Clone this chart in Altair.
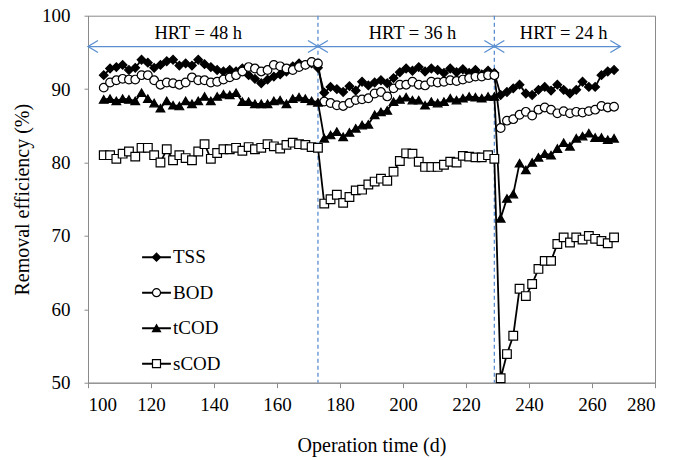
import altair as alt
import pandas as pd

# ---------------- data ----------------
days_48 = [105, 107, 109, 111, 113, 115, 117, 119, 121, 123, 125, 127, 129, 131, 133,
           135, 137, 139, 141, 143, 145, 147, 149, 151, 153, 155, 157, 159, 161, 163,
           165, 167, 169, 171, 173]
days_36 = [175, 177, 179, 181, 183, 185, 187, 189, 191, 193, 195, 197, 199, 201, 203,
           205, 207, 209, 211, 213, 215, 217, 219, 221, 223, 225, 227, 229]
days_24 = [231, 233, 235, 237, 239, 241, 243, 245, 247, 249, 251, 253, 255, 257, 259,
           261, 263, 265, 267]

tss_48 = [91.9, 92.8, 93.0, 93.3, 92.6, 92.9, 94.0, 93.6, 92.9, 93.3, 93.8, 94.0, 93.2,
          93.5, 93.2, 94.0, 93.4, 93.0, 92.6, 92.4, 92.6, 92.4, 92.8, 91.9, 91.4, 90.8,
          91.3, 91.7, 92.0, 92.4, 93.1, 93.5, 93.3, 93.5, 92.9]
tss_36 = [89.5, 90.3, 90.0, 89.6, 90.4, 89.8, 91.0, 90.5, 90.9, 91.2, 90.8, 91.5, 92.3,
          92.8, 92.5, 93.0, 92.4, 92.8, 92.6, 92.2, 92.8, 92.3, 92.7, 92.2, 92.6, 92.0,
          92.5, 92.2]
tss_24 = [89.2, 89.6, 90.1, 90.6, 89.4, 89.2, 89.9, 90.3, 89.8, 90.6, 89.9, 89.4, 89.9,
          91.0, 90.3, 90.3, 91.9, 92.4, 92.6]

bod_48 = [90.2, 90.9, 91.2, 91.4, 91.3, 91.3, 91.9, 91.9, 91.2, 90.6, 90.9, 90.8, 90.6,
          90.9, 91.6, 91.2, 91.2, 90.9, 91.0, 91.3, 91.6, 91.9, 92.4, 93.0, 92.8, 92.4,
          92.6, 93.3, 93.1, 92.8, 92.6, 93.0, 93.3, 93.7, 93.5]
bod_36 = [88.3, 88.1, 87.8, 87.7, 88.1, 88.5, 88.6, 88.75, 89.4, 89.6, 89.0, 90.1, 90.6,
          90.6, 91.0, 90.6, 90.5, 91.0, 90.9, 91.0, 91.2, 91.1, 91.3, 91.5, 91.7, 91.7,
          91.9, 91.9]
bod_24 = [84.7, 85.7, 85.9, 86.5, 86.9, 86.4, 87.2, 87.5, 87.2, 86.7, 87.0, 86.7, 86.9,
          86.8, 87.0, 87.2, 87.7, 87.5, 87.6]

tcod_48 = [88.6, 88.7, 88.4, 88.7, 88.6, 88.4, 89.5, 88.7, 88.1, 87.4, 88.4, 87.8, 87.7,
           88.4, 88.0, 88.4, 89.0, 88.4, 89.0, 89.3, 89.2, 89.5, 88.3, 88.3, 88.0, 88.0,
           88.0, 88.4, 88.5, 88.0, 88.7, 88.9, 88.7, 88.4, 88.2]
tcod_36 = [83.3, 83.75, 84.2, 83.5, 84.1, 84.65, 85.1, 85.2, 86.5, 86.9, 87.1, 88.3, 88.6,
           88.9, 88.5, 88.5, 87.8, 88.3, 88.1, 88.3, 88.75, 88.5, 88.75, 89.0, 88.9, 88.75,
           89.0, 89.0]
tcod_24 = [72.4, 75.1, 75.7, 79.9, 79.0, 80.0, 80.7, 81.2, 81.0, 81.9, 82.7, 82.2, 83.3,
           83.6, 84.0, 83.4, 83.4, 83.1, 83.3]

scod_48 = [81.0, 81.0, 80.5, 81.2, 81.5, 80.8, 82.0, 82.0, 81.0, 80.0, 81.8, 80.3, 81.0,
           80.6, 80.3, 81.5, 82.5, 80.5, 81.3, 81.8, 81.8, 82.0, 81.6, 82.1, 81.8, 82.0,
           82.5, 82.2, 81.9, 82.4, 82.7, 82.5, 82.4, 82.1, 82.0]
scod_36 = [74.4, 75.0, 75.6, 74.5, 75.3, 76.2, 76.3, 77.0, 77.4, 77.8, 77.5, 78.75, 80.2,
           81.25, 81.2, 80.1, 79.4, 79.4, 79.4, 79.7, 80.1, 80.0, 80.9, 80.8, 80.7, 80.7,
           81.0, 80.5]
scod_24 = [50.6, 53.9, 56.4, 62.8, 61.8, 63.45, 65.5, 66.6, 66.6, 68.9, 69.8, 69.1, 69.8,
           69.5, 70.0, 69.6, 69.3, 69.0, 69.8]

series_names = ["TSS", "BOD", "tCOD", "sCOD"]
series_shapes = ["diamond", "circle", "triangle-up", "square"]
series_fills = ["black", "white", "black", "white"]

x_ticks = [100, 120, 140, 160, 180, 200, 220, 240, 260, 280]
y_ticks = [50, 60, 70, 80, 90, 100]

phase_bounds = [173, 229]
arrow_starts = [100, 173, 229]
arrow_ends = [173, 229, 269]
arrow_level = [95.8, 95.8, 95.8]
hrt_labels = ["HRT = 48 h", "HRT = 36 h", "HRT = 24 h"]
hrt_label_days = [135, 203, 251]
hrt_label_level = [96.8, 96.8, 96.8]

# ---------------- tables ----------------
days = days_48 + days_36 + days_24
all_vals = [tss_48 + tss_36 + tss_24, bod_48 + bod_36 + bod_24,
            tcod_48 + tcod_36 + tcod_24, scod_48 + scod_36 + scod_24]
line_keys = [n + " line" for n in series_names]   # separate key so the two legends stay apart
rows = []
for name, key, vals in zip(series_names, line_keys, all_vals):
    for d, v in zip(days, vals):
        rows.append({"day": d, "value": v, "series": name, "grp": key})
df = pd.DataFrame(rows)

bounds_df = pd.DataFrame({"day": phase_bounds})
arrows_df = pd.DataFrame({"start": arrow_starts, "end": arrow_ends, "level": arrow_level})
labels_df = pd.DataFrame({"day": hrt_label_days, "level": hrt_label_level, "label": hrt_labels})

FONT = "Liberation Serif"
BLUE = "#5B8FD0"
GRAY = "#8a8a8a"

xs = alt.Scale(domain=[100, 280], nice=False, zero=False)
ys = alt.Scale(domain=[50, 100], nice=False, zero=False)

axis_style = dict(grid=False, labelFont=FONT, labelFontSize=19, labelColor="black",
                  titleFont=FONT, titleFontSize=20, titleFontWeight="normal",
                  titleColor="black", domainColor=GRAY, tickColor=GRAY)
x_axis = alt.Axis(values=x_ticks, title="Operation time (d)", tickSize=5,
                  labelPadding=8, titleY=69, titleBaseline="alphabetic", **axis_style)
y_axis = alt.Axis(values=y_ticks, title="Removal efficiency (%)", tickSize=4,
                  labelPadding=14, titleX=-59.5, titleY=183.5, titleAngle=270,
                  titleBaseline="alphabetic", titleAlign="center", **axis_style)


def X(field):
    return alt.X(field, scale=xs, axis=x_axis)


def Y(field):
    return alt.Y(field, scale=ys, axis=y_axis)


LEG_X = 59
LEG_Y = 232
common_leg = dict(orient="none", legendX=LEG_X, legendY=LEG_Y, title=None, padding=0,
                  symbolSize=64, labelFont=FONT, labelFontSize=19, labelColor="black",
                  rowPadding=15.5, labelOffset=7)

# connecting lines; their legend draws only the horizontal line of each entry
lines = alt.Chart(df).mark_line(strokeWidth=1.8, color="black").encode(
    x=X("day:Q"),
    y=Y("value:Q"),
    strokeDash=alt.StrokeDash(
        "grp:N", scale=alt.Scale(domain=line_keys, range=[[1, 0]] * 4),
        legend=alt.Legend(symbolType="M-3.6,0L3.6,0", symbolStrokeWidth=2,
                          symbolStrokeColor="black", labelOpacity=0, labelExpr="''",
                          **common_leg)),
)

# markers; their legend draws the marker and the visible label of each entry
point_legend = alt.Legend(symbolStrokeWidth=1.2, symbolOpacity=1, **common_leg)
points = alt.Chart(df).mark_point(filled=True, strokeWidth=1.2, opacity=1, size=75).encode(
    x=X("day:Q"),
    y=Y("value:Q"),
    color=alt.Color("series:N", scale=alt.Scale(domain=series_names, range=series_fills),
                    legend=point_legend),
    shape=alt.Shape("series:N", scale=alt.Scale(domain=series_names, range=series_shapes),
                    legend=point_legend),
    stroke=alt.Stroke("series:N", scale=alt.Scale(domain=series_names, range=["black"] * 4),
                      legend=point_legend),
)

vrules = alt.Chart(bounds_df).mark_rule(color=BLUE, strokeWidth=1.3, strokeDash=[4, 3]).encode(
    x=X("day:Q")
)

arrow_lines = alt.Chart(arrows_df).mark_rule(color=BLUE, strokeWidth=1.3).encode(
    x=X("start:Q"),
    x2="end:Q",
    y=Y("level:Q"),
)
heads_left = alt.Chart(arrows_df).mark_point(
    shape="M2,-1.2L0,0L2,1.2", filled=False, stroke=BLUE, strokeWidth=1.3, size=100, opacity=1
).encode(x=X("start:Q"), y=Y("level:Q"))
heads_right = alt.Chart(arrows_df).mark_point(
    shape="M-2,-1.2L0,0L-2,1.2", filled=False, stroke=BLUE, strokeWidth=1.3, size=100, opacity=1
).encode(x=X("end:Q"), y=Y("level:Q"))

hrt_text = alt.Chart(labels_df).mark_text(
    font=FONT, fontSize=18.5, color="black", align="center", baseline="alphabetic"
).encode(
    x=X("day:Q"),
    y=Y("level:Q"),
    text="label:N",
)

chart = alt.layer(
    vrules, arrow_lines, heads_left, heads_right, hrt_text, lines, points
).properties(
    width=567, height=367,
    padding={"left": 88, "top": 15.7, "right": 30, "bottom": 77.3},
    autosize=alt.AutoSizeParams(type="none"),
).configure_view(
    stroke=GRAY, strokeWidth=1
)

chart.save("out.html", embed_options={"renderer": "svg", "actions": False})
